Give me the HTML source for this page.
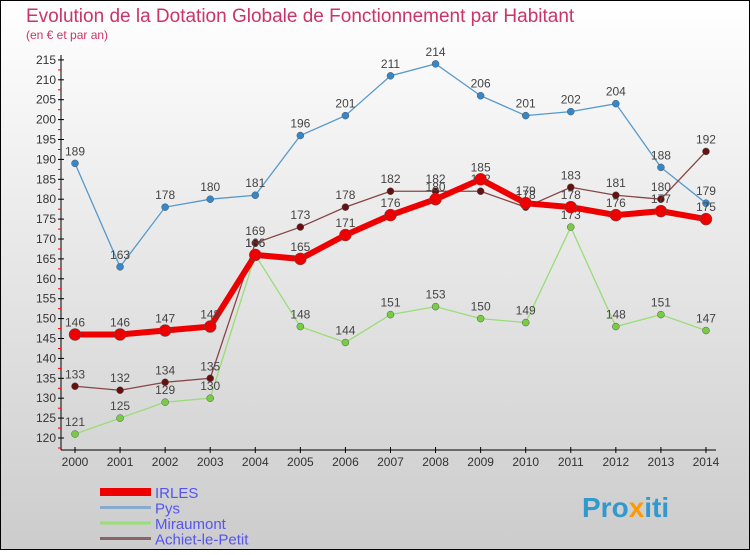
<!DOCTYPE html>
<html><head><meta charset="utf-8"><style>
body{margin:0}
#c{width:750px;height:550px;position:relative;font-family:"Liberation Sans",sans-serif}
</style></head><body>
<div id="c">
<svg id="s" width="750" height="550" xmlns="http://www.w3.org/2000/svg">
<defs><linearGradient id="bg" x1="0" y1="0" x2="0" y2="1"><stop offset="0" stop-color="#ffffff"/><stop offset="1" stop-color="#cccccc"/></linearGradient></defs>
<rect x="0.5" y="0.5" width="749" height="549" fill="url(#bg)" stroke="#000"/>
<text x="26" y="22" font-size="19" fill="#cc3366">Evolution de la Dotation Globale de Fonctionnement par Habitant</text>
<text x="26" y="39" font-size="12" fill="#cc3366">(en € et par an)</text>
<g id="axes"></g><g id="plot"></g><g id="legend"></g>
<text x="582" y="517" font-size="28" font-weight="bold" fill="#3399cc">Pro<tspan fill="#ff9900">x</tspan>iti</text>
</svg></div>
<script>
const years=["2000","2001","2002","2003","2004","2005","2006","2007","2008","2009","2010","2011","2012","2013","2014"];
const irles=[146,146,147,148,166,165,171,176,180,185,179,178,176,177,175];
const pys=[189,163,178,180,181,196,201,211,214,206,201,202,204,188,179];
const miraumont=[121,125,129,130,166,148,144,151,153,150,149,173,148,151,147];
const achiet=[133,132,134,135,169,173,178,182,182,182,178,183,181,180,192];
const yTicks=[120,125,130,135,140,145,150,155,160,165,170,175,180,185,190,195,200,205,210,215];
const NS="http://www.w3.org/2000/svg";
const X=i=>75+i*45.07, Y=v=>438-(v-120)*3.98;
function el(t,a,p){const e=document.createElementNS(NS,t);for(const k in a)e.setAttribute(k,a[k]);p.appendChild(e);return e;}
const ax=document.getElementById('axes');
let l=el('line',{x1:61,y1:55,x2:61,y2:450,stroke:'#000'},ax);


l=el('line',{x1:61,y1:450,x2:716,y2:450,stroke:'#000'},ax);


yTicks.forEach(v=>{const y=Y(v);
 el('line',{x1:58,y1:y,x2:64,y2:y,stroke:'#000'},ax);
 el('line',{x1:58,y1:y+10,x2:61,y2:y+10,stroke:'#f00'},ax);
 const t=el('text',{x:56,y:y+4,'font-size':12,'text-anchor':'end',fill:'#333'},ax);t.textContent=v;
 
 });
years.forEach((yr,i)=>{const x=X(i);
 el('line',{x1:x,y1:447,x2:x,y2:453,stroke:'#000'},ax);
 const t=el('text',{x:x,y:466,'font-size':12,'text-anchor':'middle',fill:'#333'},ax);t.textContent=yr;
 
 });
const series=[
 {n:'pys',d:pys,c:'#5599cc',w:1.3,r:3.5,f:'#3388cc'},
 {n:'miraumont',d:miraumont,c:'#99dd77',w:1.3,r:3.5,f:'#77cc44'},
 {n:'achiet-le-petit',d:achiet,c:'#884444',w:1.3,r:3.5,f:'#661111'},
 {n:'irles',d:irles,c:'#ee0000',w:6,r:6,f:'#ee0000'}];
const pl=document.getElementById('plot');
series.forEach(s=>{
 const g=el('g',{},pl);
 
 
 const p=el('polyline',{points:s.d.map((v,i)=>X(i)+','+Y(v)).join(' '),fill:'none',stroke:s.c,'stroke-width':s.w},g);
 
 
 s.d.forEach((v,i)=>{
  const c=el('circle',{cx:X(i),cy:Y(v),r:s.r,fill:s.f,stroke:'#555','stroke-width':0.5},g);
  
  
  const t=el('text',{x:X(i),y:Y(v)-8,'font-size':12,'text-anchor':'middle',fill:'#444'},g);t.textContent=v;
  
  });
});
const lg=document.getElementById('legend');
[['IRLES','#ee0000',8],['Pys','#88aacc',3],['Miraumont','#99dd77',3],['Achiet-le-Petit','#886666',3]].forEach((e,i)=>{
 const y=492+i*15.5;
 const g=el('g',{},lg);
 
 
 el('line',{x1:100,y1:y,x2:151,y2:y,stroke:e[1],'stroke-width':e[2]},g);
 const t=el('text',{x:155,y:y+6,'font-size':15,fill:'#5555ee'},g);t.textContent=e[0];
});
</script></body></html>
